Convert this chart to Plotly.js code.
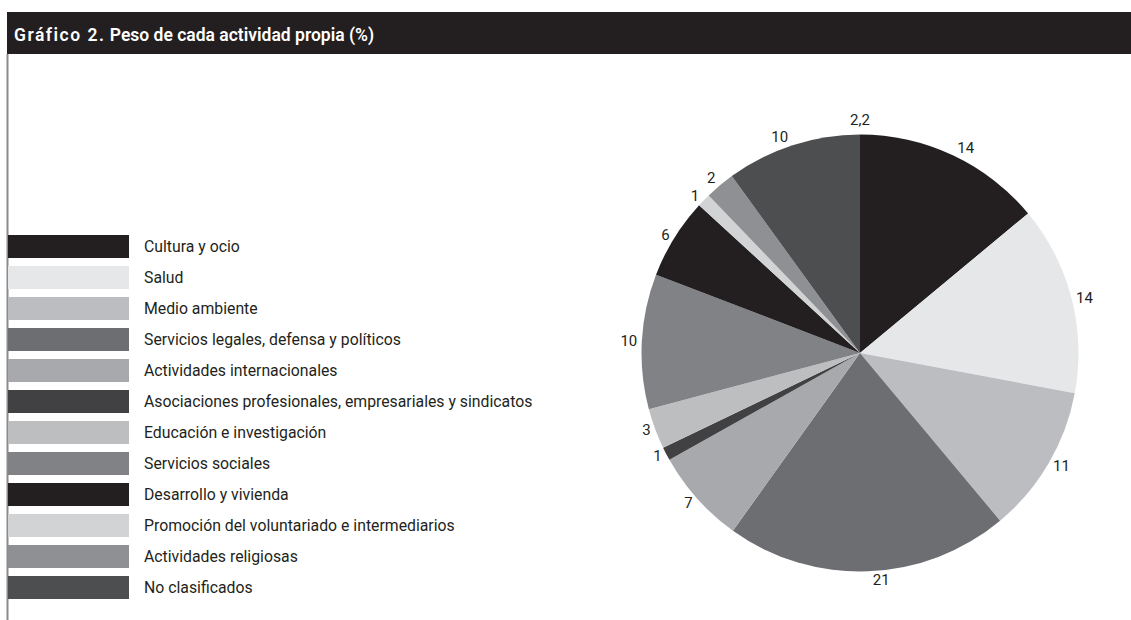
<!DOCTYPE html>
<html>
<head>
<meta charset="utf-8">
<script src="https://cdn.plot.ly/plotly-3.0.1.min.js"></script>
<style>
  html, body { margin: 0; padding: 0; background: #ffffff; }
  #chart { width: 1131px; height: 620px; }
  #chart path.textline { display: none !important; }
</style>
</head>
<body>
<div id="chart"></div>
<script>
// ---- Data ----
var categories = [
  'Cultura y ocio',
  'Salud',
  'Medio ambiente',
  'Servicios legales, defensa y políticos',
  'Actividades internacionales',
  'Asociaciones profesionales, empresariales y sindicatos',
  'Educación e investigación',
  'Servicios sociales',
  'Desarrollo y vivienda',
  'Promoción del voluntariado e intermediarios',
  'Actividades religiosas',
  'No clasificados'
];
var values = [14, 14, 11, 21, 7, 1, 3, 10, 6, 1, 2.2, 10];
var valueLabels = ['14', '14', '11', '21', '7', '1', '3', '10', '6', '1', '2', '10'];
var colors = [
  '#231f20', '#e6e7e8', '#bcbdc0', '#6d6e71', '#a7a9ac', '#414042',
  '#bcbec0', '#808285', '#231f20', '#d1d3d4', '#8e9094', '#4d4e50'
];
var extraLabel = '2,2';

var W = 1131, H = 620;
var FONT = 'Roboto, "Open Sans", sans-serif';
var TXT = '#231f20';

// ---- Pie trace ----
var cx = 860, cy = 353, r = 218.5;
var trace = {
  type: 'pie',
  labels: categories,
  values: values,
  text: valueLabels,
  textinfo: 'text',
  textposition: 'outside',
  outsidetextfont: { family: FONT, size: 15, color: TXT },
  sort: false,
  direction: 'clockwise',
  rotation: 0,
  marker: { colors: colors, line: { width: 0 } },
  hoverinfo: 'label+percent',
  showlegend: false,
  domain: {
    x: [(cx - r) / W, (cx + r) / W],
    y: [(H - (cy + r)) / H, (H - (cy - r)) / H]
  }
};

// ---- Layout elements (title bar, border, custom legend) ----
var shapes = [
  { type: 'rect', xref: 'paper', yref: 'paper',
    x0: 7 / W, x1: 1, y0: 1 - 54 / H, y1: 1 - 12 / H,
    fillcolor: '#231f20', line: { width: 0 }, layer: 'below' },
  { type: 'line', xref: 'paper', yref: 'paper',
    x0: 7.5 / W, x1: 7.5 / W, y0: 0, y1: 1 - 54 / H,
    line: { color: '#8a8a8a', width: 2 } }
];
var annotations = [];
var legTop = 235, legStep = 31, swH = 23;
categories.forEach(function (c, i) {
  var top = legTop + legStep * i;
  shapes.push({
    type: 'rect', xref: 'paper', yref: 'paper',
    x0: 8 / W, x1: 129 / W, y0: 1 - (top + swH) / H, y1: 1 - top / H,
    fillcolor: colors[i], line: { width: 0 }
  });
  annotations.push({
    xref: 'paper', yref: 'paper', x: 142 / W, y: 1 - (top + swH / 2) / H,
    xanchor: 'left', yanchor: 'middle', showarrow: false,
    text: c, font: { family: FONT, size: 15.8, color: TXT }
  });
});
annotations.push({
  xref: 'paper', yref: 'paper', x: cx / W, y: 1 - 120 / H,
  xanchor: 'center', yanchor: 'middle', showarrow: false,
  text: extraLabel, font: { family: FONT, size: 15, color: TXT }
});

var layout = {
  width: W, height: H,
  margin: { l: 0, r: 0, t: 0, b: 0 },
  paper_bgcolor: '#ffffff',
  plot_bgcolor: '#ffffff',
  title: {
    text: '<span style="letter-spacing:1.5px">Gráfico 2.</span> Peso de cada actividad propia (%)',
    xref: 'paper', yref: 'paper',
    x: 14 / W, xanchor: 'left',
    y: 1 - 35 / H, yanchor: 'middle',
    font: { family: FONT, size: 17.5, color: '#ffffff', weight: 600 }
  },
  shapes: shapes,
  annotations: annotations
};

Plotly.newPlot('chart', [trace], layout, { displayModeBar: false, staticPlot: true });
</script>
</body>
</html>
